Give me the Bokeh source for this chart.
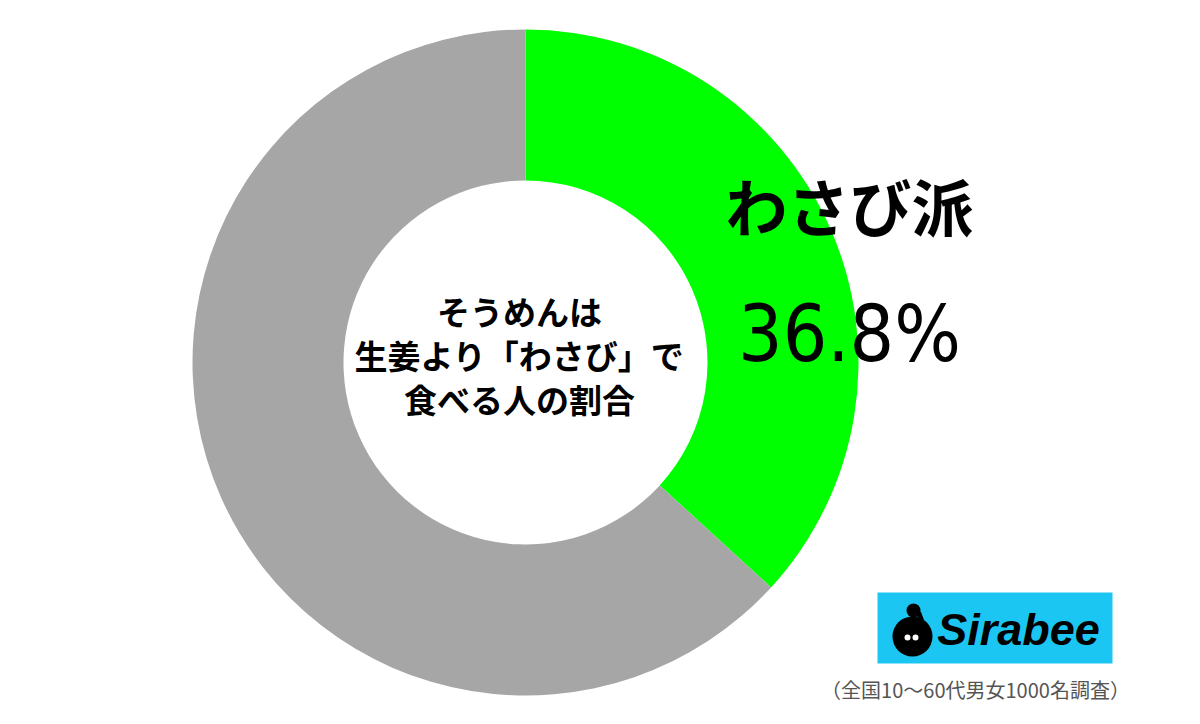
from bokeh.plotting import figure
from bokeh.models import Range1d
from bokeh.core.properties import value
from bokeh.embed import file_html
from bokeh.resources import INLINE
import math

# ---- data ----
categories = ["わさび派", "その他"]
shares = [36.8, 63.2]
colors = ["#00FF00", "#A6A6A6"]
center_lines = ["そうめんは", "生姜より「わさび」で", "食べる人の割合"]
label_name = "わさび派"
label_value = "36.8%"
brand = "Sirabee"
footnote = "（全国10〜60代男女1000名調査）"

W, H = 1184, 708
p = figure(width=W, height=H, output_backend="svg", toolbar_location=None,
           x_range=Range1d(0, W), y_range=Range1d(0, H), min_border=0)
p.axis.visible = False
p.grid.visible = False
p.outline_line_color = None
p.background_fill_color = "white"

def X(ix):
    return ix
def Y(iy):
    return H - iy

cx, cy = X(525), Y(362)
R_out, R_in = 333, 182

total = sum(shares)
cum = 0.0
starts, ends = [], []
for s in shares:
    a0 = math.pi / 2 - 2 * math.pi * cum / total
    cum += s
    a1 = math.pi / 2 - 2 * math.pi * cum / total
    starts.append(a0)
    ends.append(a1)

p.annular_wedge(x=[cx] * len(shares), y=[cy] * len(shares), inner_radius=R_in, outer_radius=R_out,
                start_angle=starts, end_angle=ends, direction="clock",
                fill_color=colors, line_color=None)

jp = value("Noto Sans CJK JP")
# center text
for i, line in enumerate(center_lines):
    p.text(x=[X(519)], y=[Y(310 + 44 * i)], text=[line], text_font=jp, text_font_size="33px",
           text_font_style="bold", text_align="center", text_baseline="middle", text_color="#000000")

# label
p.text(x=[X(849)], y=[Y(204)], text=[label_name], text_font=jp, text_font_size="62px",
       text_font_style="bold", text_align="center", text_baseline="middle", text_color="#000000")
p.text(x=[X(849)], y=[Y(333)], text=[label_value],
       text_font=value("'Liberation Sans Narrow', 'DejaVu Sans Condensed', sans-serif"),
       text_font_size="78px", text_align="center", text_baseline="alphabetic", text_color="#000000")

# logo
p.rect(x=[X((877 + 1112) / 2)], y=[Y((592 + 663) / 2)], width=1112 - 877, height=663 - 592,
       fill_color="#1CC6F2", line_color=None)
p.circle(x=[X(912)], y=[Y(636)], radius=20, fill_color="black", line_color=None)
p.circle(x=[X(913)], y=[Y(610)], radius=7, fill_color="black", line_color=None)
p.line(x=[X(918), X(921), X(916)], y=[Y(612), Y(620), Y(628)], line_color="black", line_width=5)
p.circle(x=[X(907), X(915)], y=[Y(637), Y(637)], radius=3, fill_color="white", line_color=None)
p.text(x=[X(1018)], y=[Y(629)], text=[brand], text_font=value("Liberation Sans"),
       text_font_size="45px", text_font_style="bold italic", text_align="center",
       text_baseline="middle", text_color="#000000")

# footnote
p.text(x=[X(975)], y=[Y(689)], text=[footnote], text_font=jp, text_font_size="20px",
       text_align="center", text_baseline="middle", text_color="#555555")

open("out.html", "w").write(file_html(p, INLINE))
